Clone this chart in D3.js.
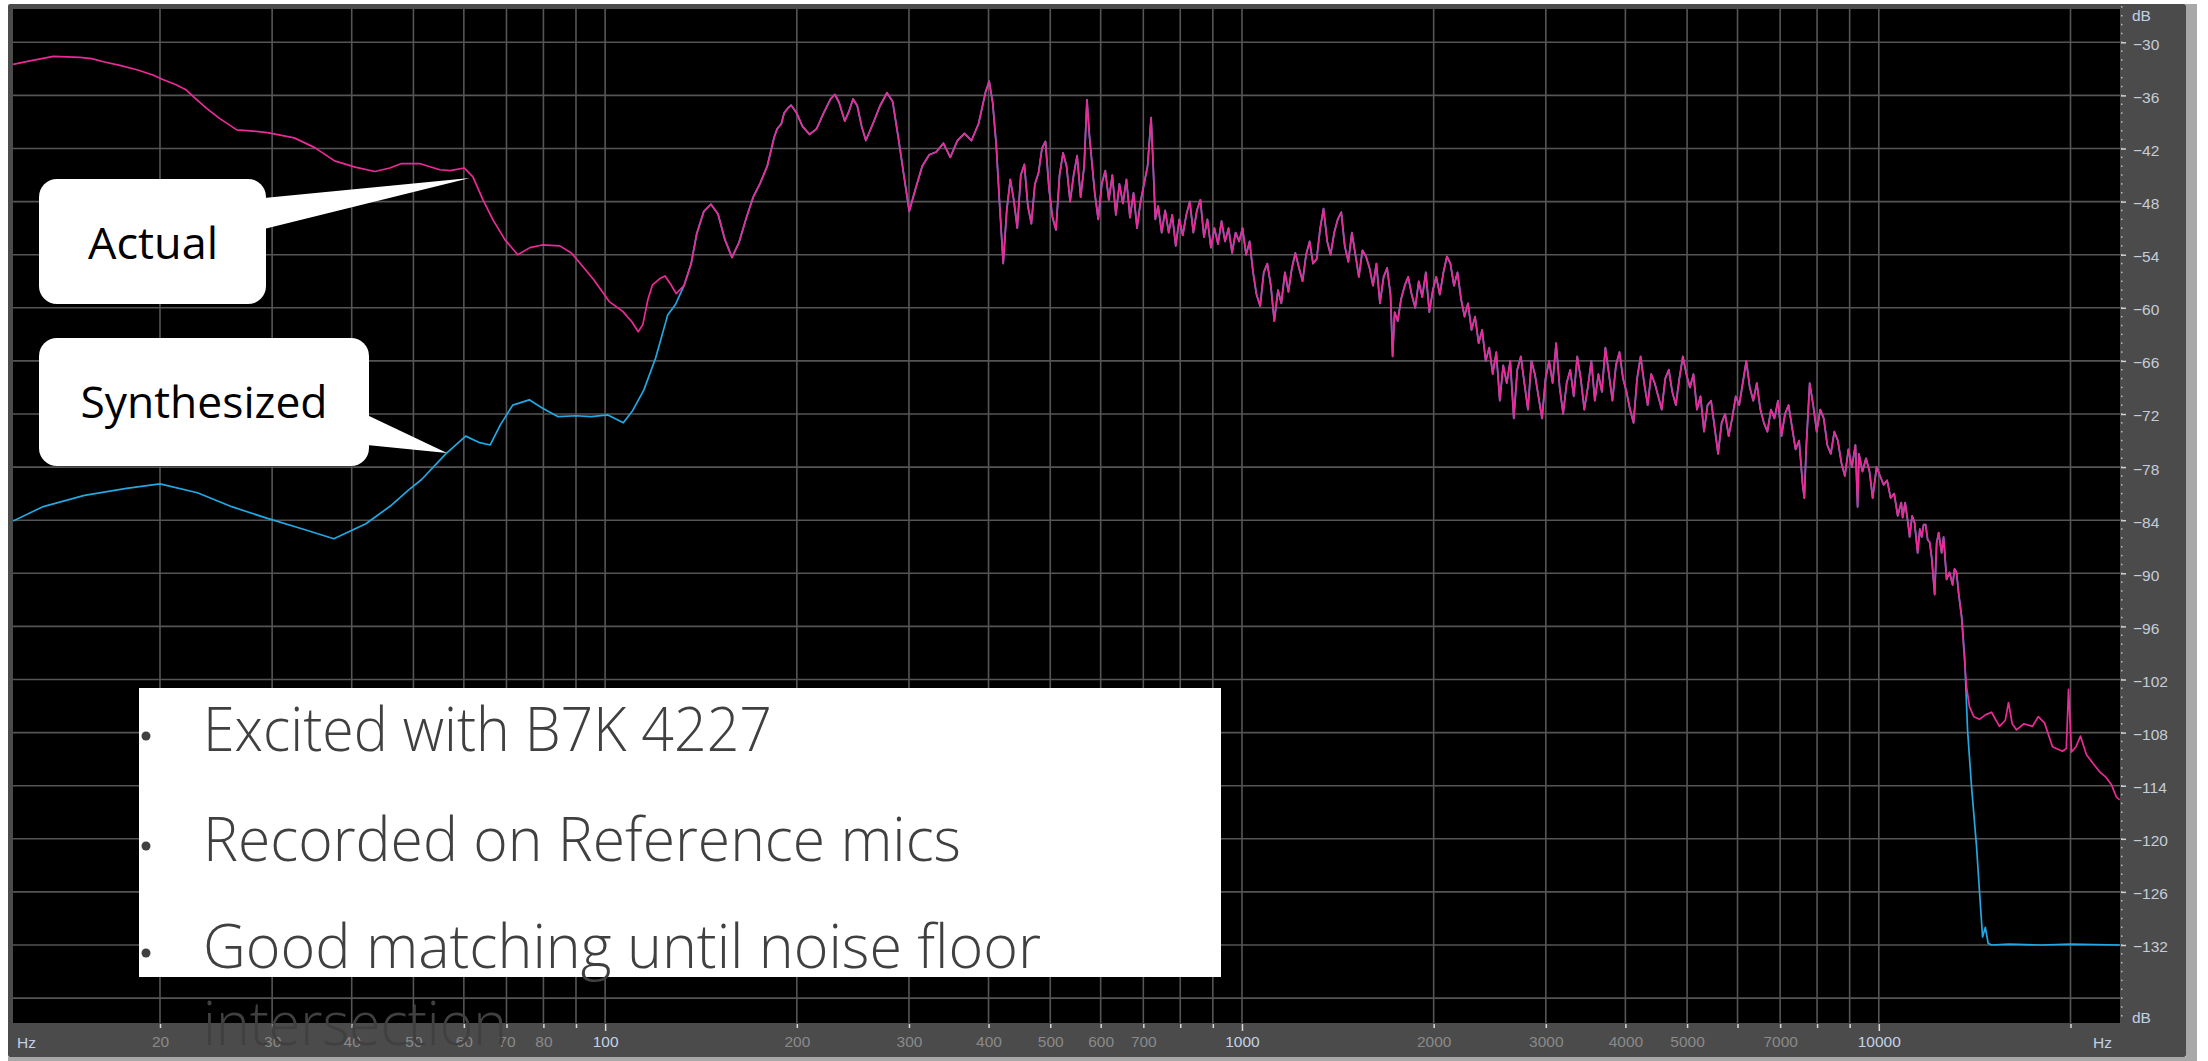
<!DOCTYPE html>
<html>
<head>
<meta charset="utf-8">
<script src="https://cdn.jsdelivr.net/npm/d3@7"></script>
<style>
  html, body { margin: 0; padding: 0; background: #ffffff; }
  svg { display: block; }
</style>
</head>
<body>
<svg id="chart" width="2208" height="1061"></svg>
<script>
// Frequency-analysis plot: actual vs. synthesized response (dB vs. Hz, log axis)

const gridFreqs = [20, 30, 40, 50, 60, 70, 80, 90, 100, 200, 300, 400, 500, 600, 700, 800, 900,
  1000, 2000, 3000, 4000, 5000, 6000, 7000, 8000, 9000, 10000, 20000];
const freqLabels = [20, 30, 40, 50, 60, 70, 80, 100, 200, 300, 400, 500, 600, 700,
  1000, 2000, 3000, 4000, 5000, 7000, 10000];
const majorFreqs = [100, 1000, 10000];
const dbTicks = [-30, -36, -42, -48, -54, -60, -66, -72, -78, -84, -90, -96, -102, -108, -114, -120, -126, -132];
const dbGrid = [-30, -36, -42, -48, -54, -60, -66, -72, -78, -84, -90, -96, -102, -108, -114, -120, -126, -132, -138];

// Low-frequency part of the actual (measured) response
const actualLow = [
  [11.76, -32.5], [12.5, -32.1], [13.04, -31.85], [13.6, -31.6], [14.97, -31.7], [15.63, -31.85],
  [16.3, -32.2], [17.3, -32.6], [18.4, -33.1], [19.5, -33.7], [20.2, -34.2], [21.2, -34.8],
  [22.0, -35.4], [22.7, -36.3], [23.7, -37.5], [24.8, -38.6], [26.4, -39.9], [27.7, -40.0],
  [29.5, -40.2], [32.5, -40.8], [35.0, -41.9], [37.6, -43.4], [40.5, -44.1], [43.5, -44.6],
  [45.9, -44.2], [47.9, -43.7], [51.1, -43.7], [55.0, -44.4], [57.1, -44.5], [60.1, -44.2],
  [62.0, -45.2], [64.3, -47.8], [66.7, -50.1], [69.6, -52.3], [72.9, -54.0], [76.2, -53.2],
  [79.6, -52.9], [84.9, -53.0], [88.5, -53.8], [91.9, -55.2], [95.9, -56.8], [101.5, -59.3],
  [106.6, -60.4], [110.2, -61.6], [112.7, -62.7], [114.6, -61.9], [116.7, -59.1], [118.7, -57.4],
  [121.9, -56.7], [124.2, -56.4], [126.9, -57.4], [129.3, -58.4]
];

// Low-frequency part of the synthesized response
const synthLow = [
  [11.76, -84.1], [13.07, -82.5], [15.22, -81.2], [17.72, -80.4], [20.0, -79.9], [22.9, -80.9],
  [25.98, -82.5], [29.5, -83.8], [33.5, -85.0], [37.5, -86.1], [42.1, -84.4], [46.0, -82.4],
  [49.1, -80.6], [51.5, -79.4], [56.2, -76.5], [60.4, -74.5], [63.3, -75.2], [66.0, -75.5],
  [68.5, -73.2], [71.6, -71.0], [76.0, -70.4], [80.0, -71.4], [84.4, -72.3], [90.0, -72.2],
  [95.1, -72.3], [101.0, -72.1], [106.8, -73.0], [110.5, -71.6], [115.0, -69.3], [120.0, -65.7],
  [125.4, -60.8], [129.0, -59.6]
];

// Band where both responses coincide
const shared = [
  [133.0, -57.5], [136.5, -55.0], [139.3, -51.6], [142.9, -49.1], [146.6, -48.3], [150.4, -49.4],
  [154.2, -52.3], [158.2, -54.3], [162.3, -52.6], [166.5, -49.9], [170.8, -47.5], [175.2, -45.9],
  [179.7, -44.0], [184.3, -40.7], [186.2, -39.8], [189.1, -39.2], [191.0, -38.0], [193.9, -37.4],
  [195.9, -37.1], [199.9, -38.0], [204.1, -39.5], [209.4, -40.4], [214.7, -39.8], [220.3, -38.0],
  [226.0, -36.4], [229.5, -35.9], [233.0, -36.8], [237.8, -38.9], [241.5, -37.8], [245.1, -36.4],
  [248.9, -37.2], [252.8, -39.5], [256.7, -41.1], [263.3, -39.2], [270.1, -37.2], [277.1, -35.7],
  [282.8, -36.7], [288.7, -40.8], [294.6, -45.1], [300.3, -49.1], [306.8, -46.7], [314.7, -44.0],
  [322.8, -42.7], [331.1, -42.4], [339.7, -41.4], [348.4, -43.0], [357.4, -41.1], [366.6, -40.3],
  [376.1, -41.1], [385.8, -39.2], [395.8, -35.6], [400.9, -34.4], [406.0, -36.8], [411.2, -41.5],
  [416.5, -48.5], [421.8, -55.0], [427.2, -49.0], [432.7, -45.5], [438.2, -47.8], [443.8, -51.0],
  [449.5, -45.0], [455.3, -43.8], [461.1, -48.5], [467.0, -50.5], [473.0, -46.0], [479.1, -44.8],
  [485.2, -42.0], [491.4, -41.2], [497.7, -46.5], [504.1, -49.8], [510.5, -51.2], [517.1, -45.0],
  [523.7, -42.5], [530.4, -44.0], [537.2, -48.0], [544.1, -45.0], [551.0, -42.8], [558.1, -47.5],
  [565.2, -44.0], [571.0, -36.5], [576.0, -40.5], [587.2, -47.0], [594.7, -50.0], [602.4, -46.0],
  [610.1, -44.5], [617.9, -47.8], [625.8, -45.0], [633.9, -49.5], [642.0, -46.0], [650.2, -48.2],
  [658.6, -45.5], [667.0, -49.8], [675.6, -47.0], [684.3, -51.0], [693.0, -48.0], [701.9, -46.0],
  [710.9, -44.0], [720.0, -38.5], [725.5, -44.0], [731.0, -50.0], [738.6, -48.5], [748.0, -51.5],
  [757.6, -49.0], [767.3, -51.5], [777.1, -49.5], [787.1, -53.0], [797.2, -50.0], [807.3, -51.8],
  [817.7, -49.5], [828.1, -48.0], [838.8, -51.5], [849.6, -49.0], [860.4, -47.8], [871.5, -52.0],
  [882.6, -50.0], [893.9, -53.2], [905.3, -51.0], [917.0, -52.8], [928.7, -50.2], [940.6, -52.5],
  [952.6, -51.0], [964.9, -53.8], [977.2, -51.5], [989.8, -52.5], [1002, -51.0], [1015, -54.0],
  [1028, -52.5], [1041, -56.0], [1054, -58.5], [1068, -59.8], [1082, -56.0], [1096, -55.0],
  [1110, -57.5], [1124, -61.5], [1139, -58.0], [1153, -59.5], [1168, -56.0], [1183, -58.2],
  [1198, -55.5], [1213, -53.8], [1229, -55.5], [1245, -57.0], [1261, -54.0], [1277, -52.5],
  [1293, -55.0], [1310, -54.5], [1327, -51.0], [1343, -48.8], [1361, -52.5], [1378, -54.0],
  [1396, -51.5], [1414, -50.0], [1432, -49.2], [1450, -53.0], [1469, -54.8], [1488, -51.5],
  [1507, -54.0], [1526, -56.5], [1546, -53.5], [1566, -54.2], [1586, -55.5], [1606, -57.5],
  [1626, -55.0], [1647, -59.5], [1669, -56.5], [1690, -55.5], [1711, -58.5], [1724, -65.5],
  [1737, -60.5], [1756, -61.5], [1778, -59.0], [1801, -57.5], [1824, -56.5], [1847, -58.5],
  [1871, -60.0], [1895, -57.0], [1919, -58.8], [1944, -56.0], [1969, -60.5], [1994, -58.0],
  [2019, -56.5], [2045, -58.5], [2072, -56.0], [2098, -54.2], [2125, -55.0], [2152, -57.5],
  [2180, -56.0], [2208, -59.0], [2236, -61.0], [2264, -59.5], [2293, -62.5], [2323, -61.0],
  [2353, -64.0], [2383, -62.5], [2414, -66.0], [2445, -64.5], [2476, -67.5], [2508, -65.0],
  [2540, -70.5], [2572, -66.5], [2605, -68.5], [2638, -66.0], [2672, -72.5], [2706, -67.0],
  [2741, -65.5], [2776, -68.5], [2812, -71.5], [2848, -66.0], [2884, -67.5], [2921, -70.0],
  [2959, -72.5], [2997, -68.0], [3036, -66.0], [3075, -68.5], [3114, -64.0], [3154, -69.0],
  [3194, -72.0], [3235, -68.5], [3277, -67.0], [3319, -70.0], [3361, -65.5], [3404, -68.0],
  [3448, -71.5], [3492, -69.0], [3537, -66.0], [3582, -70.5], [3628, -67.5], [3674, -69.5],
  [3721, -64.5], [3769, -67.5], [3817, -70.5], [3866, -66.5], [3916, -65.0], [3966, -68.0],
  [4017, -69.5], [4068, -71.5], [4120, -73.0], [4173, -68.0], [4227, -65.5], [4281, -68.5],
  [4336, -71.0], [4391, -67.5], [4447, -68.5], [4504, -70.0], [4562, -71.5], [4620, -68.0],
  [4680, -67.0], [4739, -69.5], [4800, -71.0], [4862, -68.0], [4924, -65.5], [4987, -67.5],
  [5052, -69.0], [5116, -67.5], [5182, -71.5], [5249, -70.0], [5316, -74.0], [5384, -71.0],
  [5453, -70.5], [5523, -73.5], [5593, -76.5], [5665, -73.0], [5737, -72.0], [5811, -74.5],
  [5885, -72.5], [5961, -70.0], [6037, -71.0], [6115, -68.5], [6193, -66.0], [6272, -69.0],
  [6352, -70.5], [6434, -68.5], [6517, -71.5], [6600, -73.0], [6685, -74.0], [6771, -71.5],
  [6857, -72.5], [6945, -70.5], [7034, -74.5], [7124, -72.0], [7216, -71.0], [7308, -73.5],
  [7402, -76.0], [7497, -75.0], [7593, -80.0], [7640, -81.5], [7690, -76.0], [7789, -68.5],
  [7888, -71.0], [7989, -74.0], [8092, -71.5], [8195, -72.5], [8300, -75.5], [8407, -76.5],
  [8515, -74.0], [8624, -75.0], [8734, -77.5], [8846, -79.0], [8959, -76.0], [9074, -78.0],
  [9190, -75.5], [9262, -82.5], [9308, -76.5], [9427, -78.5], [9548, -77.0], [9670, -78.5],
  [9780, -81.5], [9920, -78.0], [10047, -79.0], [10176, -80.0], [10306, -79.5], [10438, -81.5],
  [10572, -81.0], [10708, -83.5], [10846, -82.0], [10900, -83.7], [11000, -82.0], [11098, -84.0],
  [11180, -85.9], [11280, -83.5], [11382, -84.3], [11508, -87.7], [11600, -85.0], [11676, -85.9],
  [11760, -84.5], [11846, -84.5], [11932, -86.2], [12020, -86.5], [12106, -88.2], [12238, -92.4],
  [12326, -86.6], [12416, -85.4], [12550, -87.7], [12640, -85.9], [12778, -90.7], [12914, -89.9],
  [13058, -91.3], [13152, -89.5], [13246, -89.9], [13344, -92.2]
];

// Above the band edge: actual settles on the noise floor, synthesized drops to its own floor
const actualHigh = [
  [13486, -94.9], [13634, -99.8], [13732, -102.8], [13882, -105.1], [14100, -106.2], [14392, -106.5],
  [14700, -106.0], [15032, -105.7], [15470, -107.3], [15800, -106.6], [15984, -104.6], [16200, -107.0],
  [16452, -107.7], [16900, -107.0], [17432, -107.3], [17800, -106.2], [18206, -106.9], [18738, -109.6],
  [19428, -110.1], [19700, -109.8], [19858, -103.1], [20074, -110.2], [20400, -109.6], [20736, -108.4],
  [21190, -110.5], [21700, -111.5], [22208, -112.4], [22700, -113.0], [23196, -113.9], [23620, -115.3],
  [23900, -115.6]
];
const synthHigh = [
  [13500, -95.0], [13640, -99.5], [13784, -107.7], [13984, -114.1], [14240, -120.9], [14397, -126.1],
  [14553, -131.1], [14700, -130.0], [14850, -131.8], [15030, -132.0], [16000, -131.9], [18000, -132.0],
  [20000, -131.9], [23900, -132.0]
];

const actual = actualLow.concat(shared, actualHigh);
const synthesized = synthLow.concat(shared, synthHigh);

const svg = d3.select('#chart');

// Panel geometry
const plot = { left: 13, top: 9, right: 2120, bottom: 1023 };

const x = d3.scaleLog().domain([20, 20000]).range([160, 2070.5]);
const y = d3.scaleLinear().domain([-30, -132]).range([42.3, 945]);

// Window frame
svg.append('rect').attr('x', 2186).attr('y', 4).attr('width', 11).attr('height', 1057).attr('fill', '#a8a8a8');
svg.append('rect').attr('x', 8).attr('y', 1057).attr('width', 2189).attr('height', 4).attr('fill', '#a8a8a8');
svg.append('rect').attr('x', 8).attr('y', 4).attr('width', 2178).attr('height', 1053).attr('rx', 2)
  .attr('fill', '#4b4b4b');
svg.append('rect').attr('x', plot.left).attr('y', plot.top)
  .attr('width', plot.right - plot.left).attr('height', plot.bottom - plot.top).attr('fill', '#000000');

svg.append('clipPath').attr('id', 'plot-clip').append('rect')
  .attr('x', plot.left).attr('y', plot.top)
  .attr('width', plot.right - plot.left).attr('height', plot.bottom - plot.top);

// Grid
const grid = svg.append('g').attr('stroke', '#555555').attr('stroke-width', 1.6);
grid.selectAll('line.h').data(dbGrid).join('line').attr('class', 'h')
  .attr('x1', plot.left).attr('x2', plot.right)
  .attr('y1', d => y(d)).attr('y2', d => y(d));
grid.selectAll('line.v').data(gridFreqs).join('line').attr('class', 'v')
  .attr('y1', plot.top).attr('y2', plot.bottom)
  .attr('x1', d => x(d)).attr('x2', d => x(d));

// Traces
const line = d3.line().x(d => x(d[0])).y(d => y(d[1]));
const traces = svg.append('g').attr('clip-path', 'url(#plot-clip)')
  .attr('fill', 'none').attr('stroke-linejoin', 'round');
traces.append('path').datum(synthesized).attr('d', line)
  .attr('stroke', '#22a8e2').attr('stroke-width', 1.7);
traces.append('path').datum(actual).attr('d', line)
  .attr('stroke', '#ec2a97').attr('stroke-width', 1.7);

// Right dB axis
const minorDb = d3.range(-26, -141, -1);
svg.append('g').selectAll('rect').data(minorDb).join('rect')
  .attr('x', 2121).attr('y', d => y(d) - 0.75).attr('width', 1.5).attr('height', 1.5)
  .attr('fill', '#bdbdbd');

const yAxis = d3.axisRight(y).tickValues(dbTicks).tickSize(5).tickPadding(7)
  .tickFormat(d3.format('d'));
const yAxisG = svg.append('g').attr('transform', `translate(${plot.right + 1},0)`).call(yAxis);
yAxisG.select('.domain').remove();
yAxisG.selectAll('.tick line').attr('stroke', '#d0d0d0').attr('stroke-width', 1.5);
yAxisG.selectAll('.tick text')
  .attr('fill', '#c6cdd8').attr('font-family', 'Liberation Sans, Arial, sans-serif')
  .attr('font-size', 15.5).attr('dy', '0.45em');

// Bottom Hz axis
const xAxis = d3.axisBottom(x).tickValues(gridFreqs).tickSize(4).tickPadding(8)
  .tickFormat(d => freqLabels.includes(d) ? String(d) : '');
const xAxisG = svg.append('g').attr('transform', `translate(0,${plot.bottom + 1})`).call(xAxis);
xAxisG.select('.domain').remove();
xAxisG.selectAll('.tick line').attr('stroke', '#d8d8d8').attr('stroke-width', 1.5)
  .attr('y2', d => majorFreqs.includes(d) ? 7 : 4);
xAxisG.selectAll('.tick text')
  .attr('fill', d => majorFreqs.includes(d) ? '#c3d3e6' : '#8a8a8a')
  .attr('font-family', 'Liberation Sans, Arial, sans-serif').attr('font-size', 15.5);

// Unit captions
const unitStyle = s => s.attr('fill', '#c3d0e4').attr('font-family', 'Liberation Sans, Arial, sans-serif')
  .attr('font-size', 15.5);
svg.append('text').attr('x', 2132).attr('y', 21).text('dB').call(unitStyle);
svg.append('text').attr('x', 2132).attr('y', 1023).text('dB').call(unitStyle);
svg.append('text').attr('x', 17).attr('y', 1048).text('Hz').call(unitStyle);
svg.append('text').attr('x', 2093).attr('y', 1048).text('Hz').call(unitStyle);

// Callouts
const callouts = svg.append('g').attr('fill', '#ffffff');
callouts.append('rect').attr('x', 39).attr('y', 179).attr('width', 227).attr('height', 125).attr('rx', 18);
callouts.append('polygon').attr('points', '264,198 470,178 264,229');
callouts.append('rect').attr('x', 39).attr('y', 338).attr('width', 330).attr('height', 128).attr('rx', 18);
callouts.append('polygon').attr('points', '367,415 447,453 367,445');

const calloutText = svg.append('g').attr('fill', '#000000')
  .attr('font-family', '"Open Sans", "Noto Sans", sans-serif').attr('font-size', 44)
  .attr('text-anchor', 'middle');
calloutText.append('text').attr('x', 153).attr('y', 259)
  .attr('textLength', 130).attr('lengthAdjust', 'spacingAndGlyphs').text('Actual');
calloutText.append('text').attr('x', 204).attr('y', 418)
  .attr('textLength', 247).attr('lengthAdjust', 'spacingAndGlyphs').text('Synthesized');

// Notes box
svg.append('rect').attr('x', 139).attr('y', 688).attr('width', 1082).attr('height', 289).attr('fill', '#ffffff');
const notes = [
  { text: 'Excited with B7K 4227', y: 751, w: 569, bullet: true },
  { text: 'Recorded on Reference mics', y: 861, w: 758, bullet: true },
  { text: 'Good matching until noise floor', y: 968, w: 838, bullet: true },
  { text: 'intersection', y: 1045, w: 304, bullet: false }
];
const notesG = svg.append('g').attr('fill', '#404040');
notesG.selectAll('text').data(notes).join('text')
  .attr('x', 203).attr('y', d => d.y)
  .attr('font-family', '"Open Sans", "Noto Sans", sans-serif').attr('font-weight', 300)
  .attr('font-size', 60)
  .attr('textLength', d => d.w).attr('lengthAdjust', 'spacingAndGlyphs')
  .text(d => d.text);
notesG.selectAll('circle').data(notes.filter(d => d.bullet)).join('circle')
  .attr('cx', 146).attr('cy', d => d.y - 15).attr('r', 4.5);
</script>
</body>
</html>
